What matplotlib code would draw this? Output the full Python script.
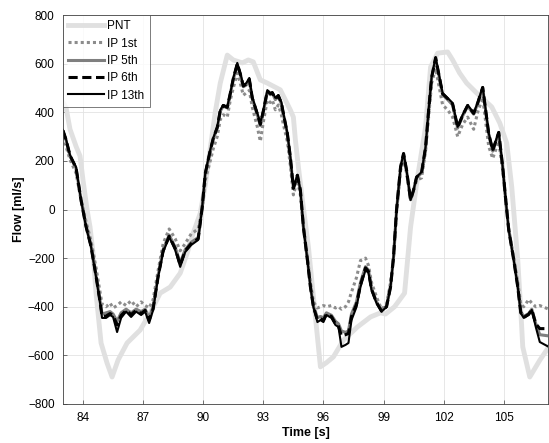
import numpy as np
import matplotlib
matplotlib.use("Agg")
import matplotlib.pyplot as plt

plt.rcParams['font.family'] = ['Liberation Sans', 'DejaVu Sans']

# sample times of the IP curves [s]
t = [83.00, 83.15, 83.35, 83.65, 83.90, 84.15, 84.40, 84.65, 84.85, 84.95,
     85.15, 85.35, 85.50, 85.70, 85.90, 86.15, 86.40, 86.65, 86.90, 87.10,
     87.30, 87.50, 87.75, 88.00, 88.30, 88.60, 88.85, 89.10, 89.40, 89.75,
     89.95, 90.10, 90.35, 90.50, 90.70, 90.85, 91.00, 91.20, 91.35, 91.50,
     91.70, 91.85, 92.00, 92.15, 92.30, 92.45, 92.70, 92.85, 93.00, 93.20,
     93.35, 93.45, 93.60, 93.75, 93.90, 94.00, 94.20, 94.35, 94.50, 94.70,
     94.85, 95.00, 95.20, 95.35, 95.50, 95.70, 95.85, 96.00, 96.15, 96.40,
     96.60, 96.75, 96.90, 97.10, 97.25, 97.40, 97.65, 97.85, 98.10, 98.25,
     98.40, 98.65, 98.90, 99.15, 99.35, 99.50, 99.65, 99.85, 100.00, 100.15,
     100.35, 100.50, 100.65, 100.90, 101.10, 101.25, 101.40, 101.60, 101.95, 102.20,
     102.45, 102.70, 102.95, 103.20, 103.50, 103.70, 103.95, 104.25, 104.45, 104.75,
     104.95, 105.10, 105.25, 105.50, 105.70, 105.85, 106.00, 106.25, 106.40, 106.60,
     106.80, 107.25]

ip1 = [300, 260, 205, 150, 40, -50, -130, -240, -340, -390,
       -400, -385, -405, -395, -380, -395, -375, -400, -380, -395,
       -405, -370, -250, -140, -80, -120, -170, -140, -100, -80,
       0, 120, 200, 250, 300, 370, 390, 380, 450, 500,
       560, 520, 470, 480, 490, 420, 340, 280, 360, 450,
       440, 450, 410, 430, 390, 350, 280, 180, 60, 120,
       60, -70, -200, -300, -380, -405, -400, -395, -400, -395,
       -405, -400, -410, -400, -380, -340, -280, -210, -200, -230,
       -300, -360, -410, -390, -300, -200, -10, 160, 210, 150,
       50, 80, 120, 130, 240, 380, 520, 580, 430, 410,
       380, 300, 350, 380, 330, 400, 460, 260, 210, 280,
       160, 40, -80, -200, -300, -390, -400, -370, -385, -400,
       -395, -410]

ip5 = [320, 285, 220, 170, 40, -68, -150, -270, -375, -430,
       -425, -420, -430, -460, -425, -410, -425, -410, -420, -410,
       -445, -400, -270, -165, -105, -155, -220, -165, -135, -115,
       10, 145, 240, 290, 335, 405, 425, 418, 475, 535,
       595, 555, 505, 512, 532, 455, 390, 345, 400, 485,
       472, 478, 452, 465, 435, 392, 310, 212, 86, 140,
       78, -72, -206, -316, -398, -445, -440, -445, -425, -435,
       -460, -470, -500, -505, -500, -430, -380, -300, -235, -250,
       -325, -380, -415, -398, -318, -195, -3, 172, 228, 160,
       40, 80, 132, 150, 254, 405, 540, 620, 472, 452,
       430, 335, 385, 425, 392, 436, 500, 310, 240, 315,
       172, 38, -84, -206, -316, -420, -440, -428, -410, -470,
       -515, -520]

ip6 = [325, 288, 222, 172, 39, -70, -152, -275, -380, -440,
       -438, -428, -436, -475, -436, -415, -432, -415, -428, -415,
       -455, -408, -275, -170, -110, -160, -228, -170, -140, -120,
       10, 148, 243, 292, 338, 407, 428, 420, 477, 538,
       600, 558, 508, 516, 536, 458, 393, 350, 405, 488,
       476, 480, 455, 468, 438, 395, 312, 214, 87, 141,
       79, -72, -207, -318, -400, -455, -450, -455, -430, -440,
       -470, -480, -520, -515, -510, -440, -390, -310, -240, -255,
       -328, -383, -418, -400, -318, -195, -2, 174, 230, 161,
       39, 80, 133, 152, 256, 407, 543, 624, 476, 456,
       434, 338, 388, 428, 395, 438, 502, 312, 243, 317,
       174, 39, -84, -207, -318, -424, -444, -430, -412, -470,
       -490, -490]

ip13 = [327, 290, 224, 175, 39, -72, -154, -278, -385, -446,
        -446, -434, -442, -504, -446, -420, -442, -420, -434, -420,
        -467, -413, -278, -175, -113, -167, -236, -175, -146, -125,
        10, 150, 245, 294, 340, 409, 430, 422, 479, 541,
        603, 561, 512, 520, 541, 463, 397, 356, 409, 491,
        479, 483, 459, 471, 442, 397, 315, 216, 88, 142,
        80, -72, -208, -319, -401, -463, -455, -463, -434, -446,
        -475, -483, -565, -557, -549, -455, -401, -319, -249, -261,
        -331, -385, -420, -401, -319, -195, -2, 175, 232, 162,
        39, 80, 134, 154, 257, 409, 545, 627, 479, 459,
        438, 340, 390, 430, 397, 440, 504, 315, 245, 319,
        175, 39, -84, -208, -319, -426, -446, -434, -413, -483,
        -545, -565]

# reference flow (PNT)
pnt_t = [83.00, 83.15, 83.35, 83.65, 83.85, 84.00, 84.20, 84.35, 84.50, 84.65,
         84.90, 85.20, 85.45, 85.75, 86.20, 86.85, 87.35, 87.85, 88.35, 88.85,
         89.20, 89.50, 89.85, 90.10, 90.35, 90.60, 90.85, 91.20, 91.50, 91.95,
         92.25, 92.50, 92.85, 93.20, 93.85, 94.35, 94.50, 94.60, 94.75, 94.95,
         95.25, 95.55, 95.85, 96.15, 96.50, 97.00, 97.70, 98.35, 98.85, 99.10,
         99.55, 100.05, 100.35, 100.70, 101.10, 101.35, 101.70, 102.20, 102.45, 102.80,
         103.15, 103.65, 104.40, 104.80, 105.15, 105.40, 105.70, 105.85, 105.95, 106.30,
         106.80, 107.25]
pnt = [440, 420, 330, 260, 220, 120, 0, -72, -180, -344,
       -549, -632, -689, -619, -549, -496, -426, -344, -319, -262,
       -179, -97, -16, 100, 250, 400, 520, 635, 615, 603,
       615, 607, 533, 520, 492, 409, 380, 286, 175, 39,
       -154, -400, -647, -630, -606, -537, -483, -442, -425, -430,
       -400, -344, -72, 134, 340, 586, 643, 648, 615, 561,
       520, 479, 422, 356, 273, 93, -208, -413, -565, -689,
       -620, -565]

xticks = [84, 87, 90, 93, 96, 99, 102, 105]
yticks = [-800, -600, -400, -200, 0, 200, 400, 600, 800]

fig = plt.figure(figsize=(5.49, 4.43), dpi=100)
ax = fig.add_axes([63 / 549, 39 / 443, 485 / 549, 389 / 443])

ax.plot(pnt_t, pnt, color='#e0e0e0', lw=3.5, label='PNT', solid_joinstyle='round')
ax.plot(t, ip1, color='#8c8c8c', lw=2.2, ls=(0, (1, 1)), label='IP 1st')
ax.plot(t, ip5, color='#7f7f7f', lw=2.2, label='IP 5th')
ax.plot(t, ip6, color='black', lw=2.2, ls=(0, (3, 1.5)), label='IP 6th')
ax.plot(t, ip13, color='black', lw=1.5, label='IP 13th')

ax.set_xlim(83.0, 107.21)
ax.set_ylim(-800, 800)
ax.set_xticks(xticks)
ax.set_yticks(yticks)
ax.grid(True, color='#e3e3e3', lw=0.6)
ax.set_axisbelow(True)
ax.tick_params(direction='in', length=3, width=0.5, color='#404040',
               labelsize=8.5, pad=6)
for s in ax.spines.values():
    s.set_color('#404040')
    s.set_linewidth(0.6)

ax.set_xlabel('Time [s]', fontsize=9, fontweight='bold', labelpad=2)
ax.set_ylabel('Flow [ml/s]', fontsize=9, fontweight='bold', labelpad=2)

leg = ax.legend(loc='upper left', fontsize=8.5, frameon=True, fancybox=False,
                borderaxespad=0, handlelength=3.0, handletextpad=0.3,
                labelspacing=0.45, borderpad=0.45)
leg.get_frame().set_edgecolor('#404040')
leg.get_frame().set_linewidth(0.6)

fig.savefig('out.png', dpi=100)
